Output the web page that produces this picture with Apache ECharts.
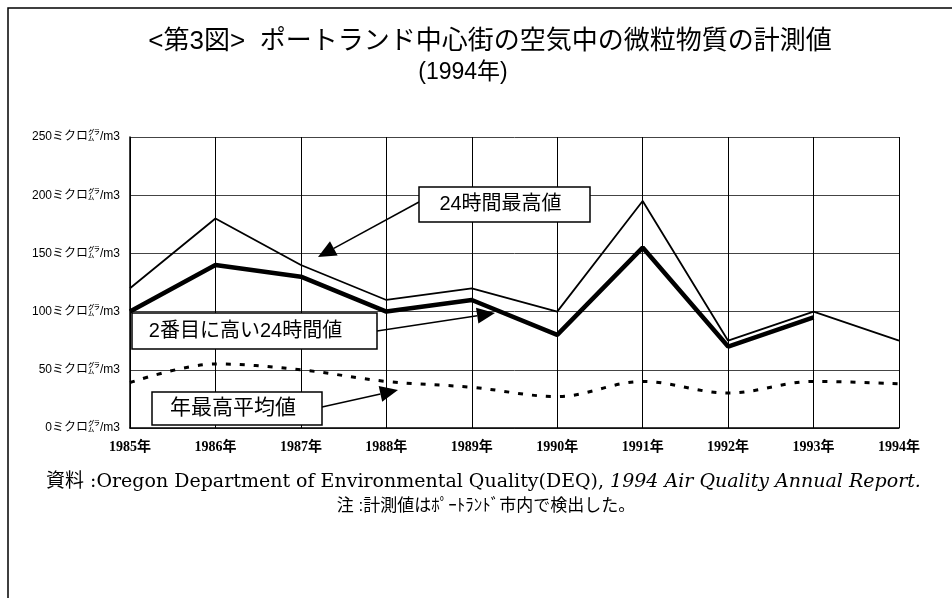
<!DOCTYPE html>
<html><head><meta charset="utf-8">
<script src="https://cdn.jsdelivr.net/npm/echarts@6/dist/echarts.min.js"></script>
<style>html,body{margin:0;padding:0;background:#fff}#c{width:952px;height:598px}</style>
</head><body><div id="c"></div>
<script>
const years = ['1985年','1986年','1987年','1988年','1989年','1990年','1991年','1992年','1993年','1994年'];
const max24h = [120, 180, 140, 110, 120, 100, 195, 75, 100, 75];
const second24h = [100, 140, 130, 100, 110, 80, 155, 70, 95, null];
const annualAvg = [39, 55, 50, 40, 35, 27, 40, 30, 40, 38];
const yUnit = 'ミクロ㌘/m3';

const jp = '"Liberation Sans", "Noto Sans CJK JP", sans-serif';
const serif = '"DejaVu Serif", "Noto Sans CJK JP", serif';

const chart = echarts.init(document.getElementById('c'));

function box(x, y, w, h, text, fs, dx) {
  return [
    {type:'rect', shape:{x:x, y:y, width:w, height:h}, style:{fill:'#fff', stroke:'#000', lineWidth:1.5}, z:10},
    {type:'text', x:x + w/2 + (dx || 0), y:y + h/2, style:{text:text, fill:'#000', font:fs + 'px ' + jp, align:'center', verticalAlign:'middle'}, z:11}
  ];
}
function arrow(x1, y1, x2, y2) {
  const a = Math.atan2(y2 - y1, x2 - x1);
  const L = 18, W = 8;
  const bx = x2 - L*Math.cos(a), by = y2 - L*Math.sin(a);
  const px = -Math.sin(a)*W, py = Math.cos(a)*W;
  return [
    {type:'line', shape:{x1:x1, y1:y1, x2:bx, y2:by}, style:{stroke:'#000', lineWidth:1.5}, z:9},
    {type:'polygon', shape:{points:[[x2,y2],[bx+px,by+py],[bx-px,by-py]]}, style:{fill:'#000'}, z:9}
  ];
}

const graphics = [
  {type:'rect', shape:{x:8, y:8, width:1200, height:1200}, style:{fill:'none', stroke:'#000', lineWidth:1.5}, z:1},
  {type:'text', x:490, y:42, style:{text:'<第3図>  ポートランド中心街の空気中の微粒物質の計測値', fill:'#000', font:'26px ' + jp, align:'center', verticalAlign:'middle'}},
  {type:'text', x:463, y:73, style:{text:'(1994年)', fill:'#000', font:'23px ' + jp, align:'center', verticalAlign:'middle'}},
  {type:'text', x:46, y:482, style:{text:'資料 :Oregon Department of Environmental Quality(DEQ), {i|1994 Air Quality Annual Report.}', fill:'#000', font:'19px ' + serif, align:'left', verticalAlign:'middle', rich:{i:{fontStyle:'italic', fontSize:19, fontFamily:serif}}}},
  {type:'text', x:486, y:506, style:{text:'注 :計測値はﾎﾟｰﾄﾗﾝﾄﾞ市内で検出した。', fill:'#000', font:'17px ' + jp, align:'center', verticalAlign:'middle'}}
];
graphics.push(...arrow(419, 202, 318, 257));
graphics.push(...box(419, 187, 171, 35, '24時間最高値', 20, -4));
graphics.push(...arrow(377, 331, 495, 313));
graphics.push(...box(132, 313, 245, 36, '2番目に高い24時間値', 20, -9));
graphics.push(...arrow(322, 407, 398, 390));
graphics.push(...box(152, 392, 170, 33, '年最高平均値', 21, -4));

chart.setOption({
  animation:false,
  backgroundColor:'#fff',
  grid:{left:130, right:53, top:137, bottom:170},
  xAxis:{
    type:'category', data:years, boundaryGap:false,
    axisLine:{lineStyle:{color:'#000', width:1.5}},
    axisTick:{show:false},
    axisLabel:{color:'#000', fontSize:14, fontWeight:'bold', fontFamily:'"Liberation Serif", "Noto Sans CJK JP", serif', margin:12},
    splitLine:{show:true, lineStyle:{color:'#000', width:1}}
  },
  yAxis:{
    type:'value', min:0, max:250, interval:50,
    axisLine:{show:true, lineStyle:{color:'#000', width:1.5}},
    axisTick:{show:false},
    axisLabel:{color:'#000', fontSize:12, fontFamily:jp, margin:10, formatter:v => v + yUnit},
    splitLine:{show:true, lineStyle:{color:'#444', width:1}}
  },
  series:[
    {name:'24時間最高値', type:'line', data:max24h, symbol:'none', lineStyle:{color:'#000', width:1.8}, z:3},
    {name:'2番目に高い24時間値', type:'line', data:second24h, symbol:'none', lineStyle:{color:'#000', width:4.5}, z:4},
    {name:'年最高平均値', type:'line', data:annualAvg, symbol:'none', smooth:0.35, lineStyle:{color:'#000', width:3, type:[5,9]}, z:3}
  ],
  graphic:graphics
});
</script></body></html>
